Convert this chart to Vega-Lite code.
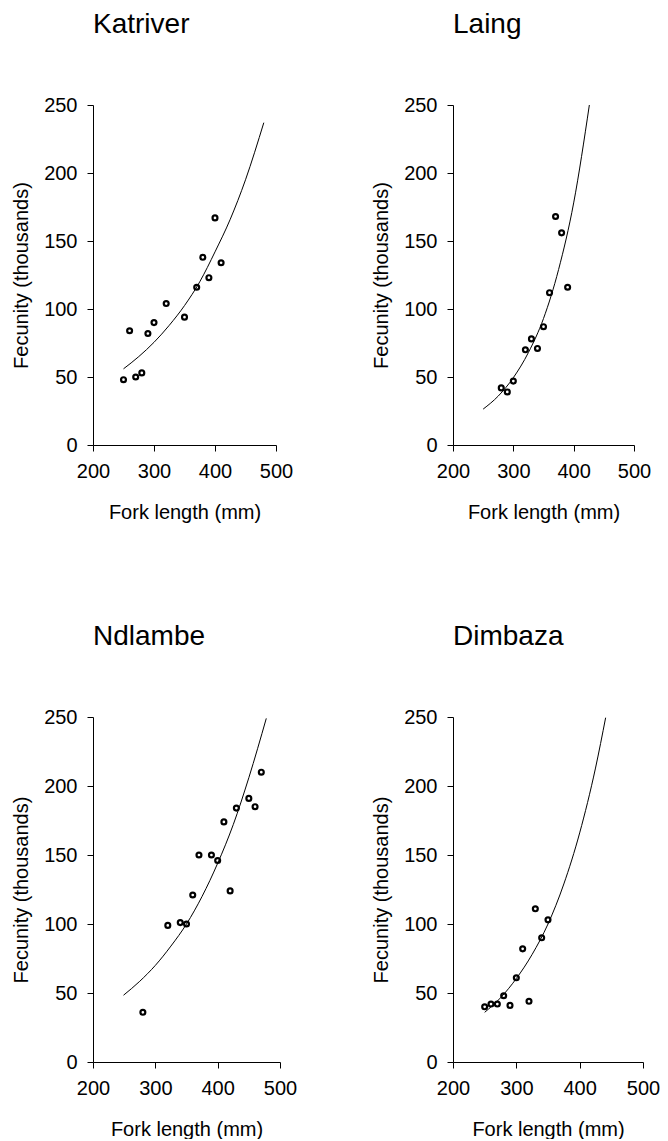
{
  "$schema": "https://vega.github.io/schema/vega-lite/v6.json",
  "background": "white",
  "padding": {"left": 11, "top": 11, "right": 0, "bottom": 0},
  "datasets": {
    "points": [
      {"site": "Katriver", "length": 250, "fecundity": 48},
      {"site": "Katriver", "length": 260, "fecundity": 84},
      {"site": "Katriver", "length": 270, "fecundity": 50},
      {"site": "Katriver", "length": 280, "fecundity": 53},
      {"site": "Katriver", "length": 290, "fecundity": 82},
      {"site": "Katriver", "length": 300, "fecundity": 90},
      {"site": "Katriver", "length": 320, "fecundity": 104},
      {"site": "Katriver", "length": 350, "fecundity": 94},
      {"site": "Katriver", "length": 370, "fecundity": 116},
      {"site": "Katriver", "length": 380, "fecundity": 138},
      {"site": "Katriver", "length": 390, "fecundity": 123},
      {"site": "Katriver", "length": 400, "fecundity": 167},
      {"site": "Katriver", "length": 410, "fecundity": 134},
      {"site": "Laing", "length": 280, "fecundity": 42},
      {"site": "Laing", "length": 290, "fecundity": 39},
      {"site": "Laing", "length": 300, "fecundity": 47},
      {"site": "Laing", "length": 320, "fecundity": 70},
      {"site": "Laing", "length": 330, "fecundity": 78},
      {"site": "Laing", "length": 340, "fecundity": 71},
      {"site": "Laing", "length": 350, "fecundity": 87},
      {"site": "Laing", "length": 360, "fecundity": 112},
      {"site": "Laing", "length": 370, "fecundity": 168},
      {"site": "Laing", "length": 380, "fecundity": 156},
      {"site": "Laing", "length": 390, "fecundity": 116},
      {"site": "Ndlambe", "length": 280, "fecundity": 36},
      {"site": "Ndlambe", "length": 320, "fecundity": 99},
      {"site": "Ndlambe", "length": 340, "fecundity": 101},
      {"site": "Ndlambe", "length": 350, "fecundity": 100},
      {"site": "Ndlambe", "length": 360, "fecundity": 121},
      {"site": "Ndlambe", "length": 370, "fecundity": 150},
      {"site": "Ndlambe", "length": 390, "fecundity": 150},
      {"site": "Ndlambe", "length": 400, "fecundity": 146},
      {"site": "Ndlambe", "length": 410, "fecundity": 174},
      {"site": "Ndlambe", "length": 420, "fecundity": 124},
      {"site": "Ndlambe", "length": 430, "fecundity": 184},
      {"site": "Ndlambe", "length": 450, "fecundity": 191},
      {"site": "Ndlambe", "length": 460, "fecundity": 185},
      {"site": "Ndlambe", "length": 470, "fecundity": 210},
      {"site": "Dimbaza", "length": 250, "fecundity": 40},
      {"site": "Dimbaza", "length": 260, "fecundity": 42},
      {"site": "Dimbaza", "length": 270, "fecundity": 42},
      {"site": "Dimbaza", "length": 280, "fecundity": 48},
      {"site": "Dimbaza", "length": 290, "fecundity": 41},
      {"site": "Dimbaza", "length": 300, "fecundity": 61},
      {"site": "Dimbaza", "length": 310, "fecundity": 82},
      {"site": "Dimbaza", "length": 320, "fecundity": 44},
      {"site": "Dimbaza", "length": 330, "fecundity": 111},
      {"site": "Dimbaza", "length": 340, "fecundity": 90},
      {"site": "Dimbaza", "length": 350, "fecundity": 103}
    ],
    "curves": [
      {"site": "Katriver", "length": 250, "fecundity": 56},
      {"site": "Katriver", "length": 275, "fecundity": 65},
      {"site": "Katriver", "length": 300, "fecundity": 75.5},
      {"site": "Katriver", "length": 325, "fecundity": 88},
      {"site": "Katriver", "length": 350, "fecundity": 102.5},
      {"site": "Katriver", "length": 375, "fecundity": 120},
      {"site": "Katriver", "length": 400, "fecundity": 142},
      {"site": "Katriver", "length": 425, "fecundity": 166},
      {"site": "Katriver", "length": 450, "fecundity": 195},
      {"site": "Katriver", "length": 480, "fecundity": 237},
      {"site": "Laing", "length": 250, "fecundity": 26.4},
      {"site": "Laing", "length": 275, "fecundity": 36},
      {"site": "Laing", "length": 300, "fecundity": 49.5},
      {"site": "Laing", "length": 325, "fecundity": 68},
      {"site": "Laing", "length": 350, "fecundity": 93},
      {"site": "Laing", "length": 375, "fecundity": 129},
      {"site": "Laing", "length": 400, "fecundity": 178},
      {"site": "Laing", "length": 426, "fecundity": 250},
      {"site": "Ndlambe", "length": 249, "fecundity": 48.4},
      {"site": "Ndlambe", "length": 275, "fecundity": 58.5},
      {"site": "Ndlambe", "length": 300, "fecundity": 70},
      {"site": "Ndlambe", "length": 325, "fecundity": 84},
      {"site": "Ndlambe", "length": 350, "fecundity": 100},
      {"site": "Ndlambe", "length": 375, "fecundity": 120},
      {"site": "Ndlambe", "length": 400, "fecundity": 144},
      {"site": "Ndlambe", "length": 425, "fecundity": 172},
      {"site": "Ndlambe", "length": 450, "fecundity": 206},
      {"site": "Ndlambe", "length": 478, "fecundity": 249},
      {"site": "Dimbaza", "length": 250, "fecundity": 36},
      {"site": "Dimbaza", "length": 275, "fecundity": 46.5},
      {"site": "Dimbaza", "length": 300, "fecundity": 60.5},
      {"site": "Dimbaza", "length": 325, "fecundity": 78},
      {"site": "Dimbaza", "length": 350, "fecundity": 100},
      {"site": "Dimbaza", "length": 375, "fecundity": 129},
      {"site": "Dimbaza", "length": 400, "fecundity": 166},
      {"site": "Dimbaza", "length": 425, "fecundity": 213},
      {"site": "Dimbaza", "length": 441, "fecundity": 249.5}
    ]
  },
  "columns": 2,
  "bounds": "flush",
  "align": "none",
  "spacing": {"row": 272, "column": 173},
  "concat": [
    {
      "width": 183, "height": 340,
      "title": {"text": "Katriver"},
      "layer": [
        {"data": {"name": "curves"}, "transform": [{"filter": "datum.site === 'Katriver'"}],
         "mark": {"type": "line", "interpolate": "monotone", "color": "black", "strokeWidth": 1},
         "encoding": {
           "x": {"field": "length", "type": "quantitative", "scale": {"domain": [200, 500], "nice": false, "zero": false}, "axis": {"values": [200, 300, 400, 500], "title": "Fork length (mm)"}},
           "y": {"field": "fecundity", "type": "quantitative", "scale": {"domain": [0, 250], "nice": false}, "axis": {"values": [0, 50, 100, 150, 200, 250], "title": "Fecunity (thousands)"}}
         }},
        {"data": {"name": "points"}, "transform": [{"filter": "datum.site === 'Katriver'"}],
         "mark": {"type": "point", "shape": "circle", "filled": false, "color": "black", "strokeWidth": 2.2, "size": 24, "opacity": 1},
         "encoding": {
           "x": {"field": "length", "type": "quantitative"},
           "y": {"field": "fecundity", "type": "quantitative"}
         }}
      ]
    },
    {
      "width": 181, "height": 340,
      "title": {"text": "Laing"},
      "layer": [
        {"data": {"name": "curves"}, "transform": [{"filter": "datum.site === 'Laing'"}],
         "mark": {"type": "line", "interpolate": "monotone", "color": "black", "strokeWidth": 1},
         "encoding": {
           "x": {"field": "length", "type": "quantitative", "scale": {"domain": [200, 500], "nice": false, "zero": false}, "axis": {"values": [200, 300, 400, 500], "title": "Fork length (mm)"}},
           "y": {"field": "fecundity", "type": "quantitative", "scale": {"domain": [0, 250], "nice": false}, "axis": {"values": [0, 50, 100, 150, 200, 250], "title": "Fecunity (thousands)"}}
         }},
        {"data": {"name": "points"}, "transform": [{"filter": "datum.site === 'Laing'"}],
         "mark": {"type": "point", "shape": "circle", "filled": false, "color": "black", "strokeWidth": 2.2, "size": 24, "opacity": 1},
         "encoding": {
           "x": {"field": "length", "type": "quantitative"},
           "y": {"field": "fecundity", "type": "quantitative"}
         }}
      ]
    },
    {
      "width": 187, "height": 345,
      "title": {"text": "Ndlambe"},
      "layer": [
        {"data": {"name": "curves"}, "transform": [{"filter": "datum.site === 'Ndlambe'"}],
         "mark": {"type": "line", "interpolate": "monotone", "color": "black", "strokeWidth": 1},
         "encoding": {
           "x": {"field": "length", "type": "quantitative", "scale": {"domain": [200, 500], "nice": false, "zero": false}, "axis": {"values": [200, 300, 400, 500], "title": "Fork length (mm)"}},
           "y": {"field": "fecundity", "type": "quantitative", "scale": {"domain": [0, 250], "nice": false}, "axis": {"values": [0, 50, 100, 150, 200, 250], "title": "Fecunity (thousands)"}}
         }},
        {"data": {"name": "points"}, "transform": [{"filter": "datum.site === 'Ndlambe'"}],
         "mark": {"type": "point", "shape": "circle", "filled": false, "color": "black", "strokeWidth": 2.2, "size": 24, "opacity": 1},
         "encoding": {
           "x": {"field": "length", "type": "quantitative"},
           "y": {"field": "fecundity", "type": "quantitative"}
         }}
      ]
    },
    {
      "width": 190, "height": 345,
      "title": {"text": "Dimbaza"},
      "layer": [
        {"data": {"name": "curves"}, "transform": [{"filter": "datum.site === 'Dimbaza'"}],
         "mark": {"type": "line", "interpolate": "monotone", "color": "black", "strokeWidth": 1},
         "encoding": {
           "x": {"field": "length", "type": "quantitative", "scale": {"domain": [200, 500], "nice": false, "zero": false}, "axis": {"values": [200, 300, 400, 500], "title": "Fork length (mm)"}},
           "y": {"field": "fecundity", "type": "quantitative", "scale": {"domain": [0, 250], "nice": false}, "axis": {"values": [0, 50, 100, 150, 200, 250], "title": "Fecunity (thousands)"}}
         }},
        {"data": {"name": "points"}, "transform": [{"filter": "datum.site === 'Dimbaza'"}],
         "mark": {"type": "point", "shape": "circle", "filled": false, "color": "black", "strokeWidth": 2.2, "size": 24, "opacity": 1},
         "encoding": {
           "x": {"field": "length", "type": "quantitative"},
           "y": {"field": "fecundity", "type": "quantitative"}
         }}
      ]
    }
  ],
  "config": {
    "view": {"stroke": null},
    "font": "Liberation Sans",
    "title": {"anchor": "start", "frame": "group", "fontSize": 28, "fontWeight": "normal", "font": "Liberation Sans", "color": "black", "baseline": "alphabetic", "offset": 56},
    "axis": {
      "grid": false,
      "domainColor": "black",
      "tickColor": "black",
      "labelColor": "black",
      "titleColor": "black",
      "labelFont": "Liberation Sans",
      "titleFont": "Liberation Sans",
      "labelFontSize": 20,
      "titleFontSize": 20,
      "titleFontWeight": "normal",
      "tickSize": 6,
      "labelPadding": 10,
      "labelFlush": false,
      "labelOverlap": false
    },
    "axisX": {"titlePadding": 21},
    "axisY": {"titlePadding": 12}
  }
}
